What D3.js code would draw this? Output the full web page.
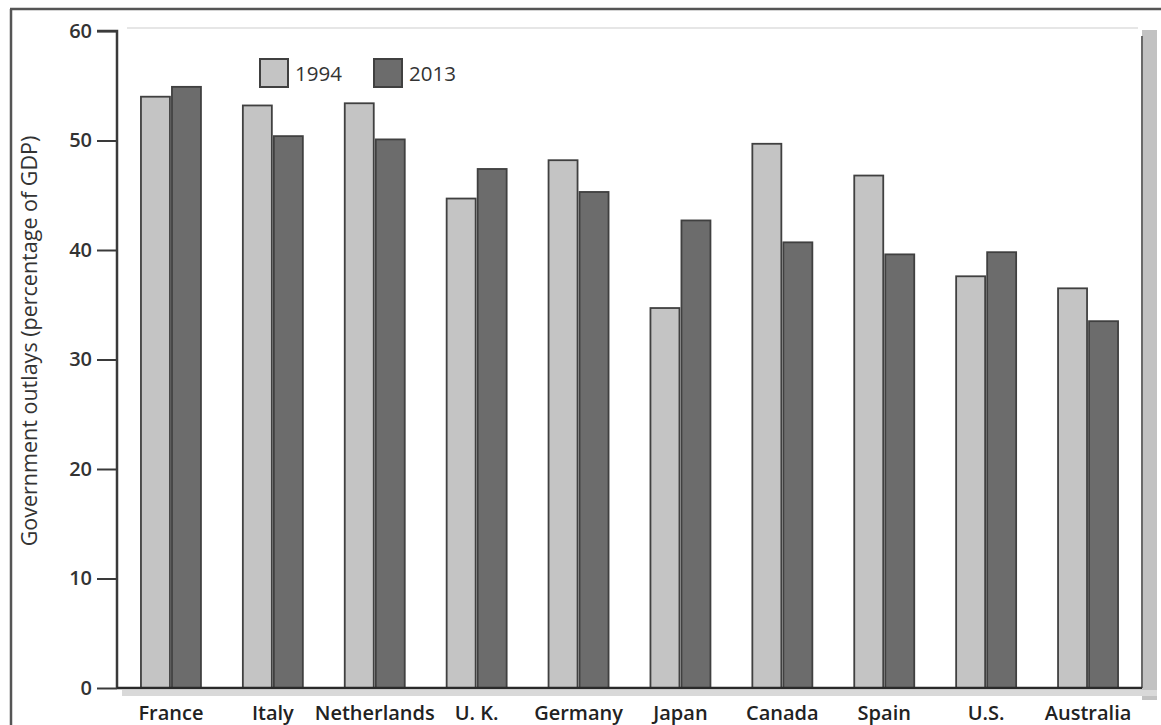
<!DOCTYPE html>
<html>
<head>
<meta charset="utf-8">
<script src="https://cdn.jsdelivr.net/npm/d3@7"></script>
<style>
  html, body { margin: 0; padding: 0; background: #fff; }
  svg { display: block; }
  text { font-family: "Open Sans", Roboto, "Liberation Sans", sans-serif; }
</style>
</head>
<body>
<svg id="chart" width="1161" height="725"></svg>
<script>
const categories = ["France", "Italy", "Netherlands", "U. K.", "Germany", "Japan", "Canada", "Spain", "U.S.", "Australia"];
const seriesNames = ["1994", "2013"];
const values1994 = [54.0, 53.2, 53.4, 44.7, 48.2, 34.7, 49.7, 46.8, 37.6, 36.5];
const values2013 = [54.9, 50.4, 50.1, 47.4, 45.3, 42.7, 40.7, 39.6, 39.8, 33.5];
const yTicks = [0, 10, 20, 30, 40, 50, 60];
const yTitle = "Government outlays (percentage of GDP)";

const colors = { "1994": "#c4c4c4", "2013": "#6c6c6c" };
const strokeCol = "#404040";

const svg = d3.select("#chart");
const plot = { left: 117, right: 1142, top: 31, bottom: 688 };

// scan frame
svg.append("line").attr("x1", 10).attr("x2", 1161).attr("y1", 9).attr("y2", 9)
  .attr("stroke", "#555").attr("stroke-width", 2.5);
svg.append("line").attr("x1", 11).attr("x2", 11).attr("y1", 9).attr("y2", 725)
  .attr("stroke", "#555").attr("stroke-width", 2.5);
// right shaded edge
svg.append("rect").attr("x", 1142).attr("y", 30).attr("width", 15).attr("height", 670)
  .attr("fill", "#c2c2c2");
svg.append("line").attr("x1", plot.right).attr("x2", plot.right).attr("y1", 36).attr("y2", plot.bottom)
  .attr("stroke", "#6a6a6a").attr("stroke-width", 2);
// faint top line
svg.append("line").attr("x1", plot.left + 10).attr("x2", 1138).attr("y1", plot.top - 3).attr("y2", plot.top - 3)
  .attr("stroke", "#e6e6e6").attr("stroke-width", 2);
// smudge below baseline
svg.append("rect").attr("x", plot.left + 5).attr("y", 690).attr("width", 1035).attr("height", 6)
  .attr("fill", "#d9d9d9");

const y = d3.scaleLinear().domain([0, 60]).range([plot.bottom, plot.top]);
const x = d3.scaleBand().domain(categories).range([120, 1139]).paddingInner(0).paddingOuter(0);
const barW = 31;
const xs = d3.scaleBand().domain(seriesNames).range([x.bandwidth() / 2 - barW, x.bandwidth() / 2 + barW]);

const data = categories.map((c, i) => ({ c, v: { "1994": values1994[i], "2013": values2013[i] } }));

const groups = svg.append("g").selectAll("g").data(data).join("g")
  .attr("transform", d => `translate(${x(d.c)},0)`);
groups.selectAll("rect").data(d => seriesNames.map(s => ({ s, v: d.v[s] }))).join("rect")
  .attr("x", d => xs(d.s) + 1)
  .attr("width", xs.bandwidth() - 2)
  .attr("y", d => y(d.v))
  .attr("height", d => y(0) - y(d.v))
  .attr("fill", d => colors[d.s])
  .attr("stroke", strokeCol)
  .attr("stroke-width", 1.8);

// y axis
const yAxis = d3.axisLeft(y).tickValues(yTicks).tickSize(20).tickPadding(5).tickFormat(d3.format("d"));
const ya = svg.append("g").attr("transform", `translate(${plot.left},0)`).call(yAxis);
ya.select(".domain").attr("stroke", "#3a3a3a").attr("stroke-width", 2.5).attr("d", `M-20,${plot.top}H0V${plot.bottom}`);
ya.selectAll(".tick line").attr("stroke", "#3a3a3a").attr("stroke-width", 2);
ya.selectAll(".tick text").attr("font-size", 20).attr("font-weight", 600).attr("fill", "#333")
  .attr("font-family", "'Open Sans', sans-serif");

// x baseline
svg.append("line").attr("x1", plot.left).attr("x2", plot.right).attr("y1", plot.bottom).attr("y2", plot.bottom)
  .attr("stroke", "#2a2a2a").attr("stroke-width", 2.5);

// x labels
svg.append("g").selectAll("text").data(categories).join("text")
  .attr("x", d => x(d) + x.bandwidth() / 2)
  .attr("y", 720)
  .attr("text-anchor", "middle")
  .attr("font-size", 20).attr("font-weight", 600).attr("fill", "#222")
  .text(d => d);

// y title
svg.append("text")
  .attr("transform", `translate(37,341) rotate(-90)`)
  .attr("text-anchor", "middle")
  .attr("font-size", 21.5).attr("fill", "#333")
  .text(yTitle);

// legend
const legendX = d3.scalePoint().domain(seriesNames).range([260, 374]);
const lg = svg.append("g").selectAll("g").data(seriesNames).join("g")
  .attr("transform", d => `translate(${legendX(d)},59)`);
lg.append("rect").attr("width", 28).attr("height", 28)
  .attr("fill", d => colors[d]).attr("stroke", strokeCol).attr("stroke-width", 2);
lg.append("text").attr("x", 35).attr("y", 22).attr("font-size", 20.5).attr("fill", "#333")
  .text(d => d);
</script>
</body>
</html>
